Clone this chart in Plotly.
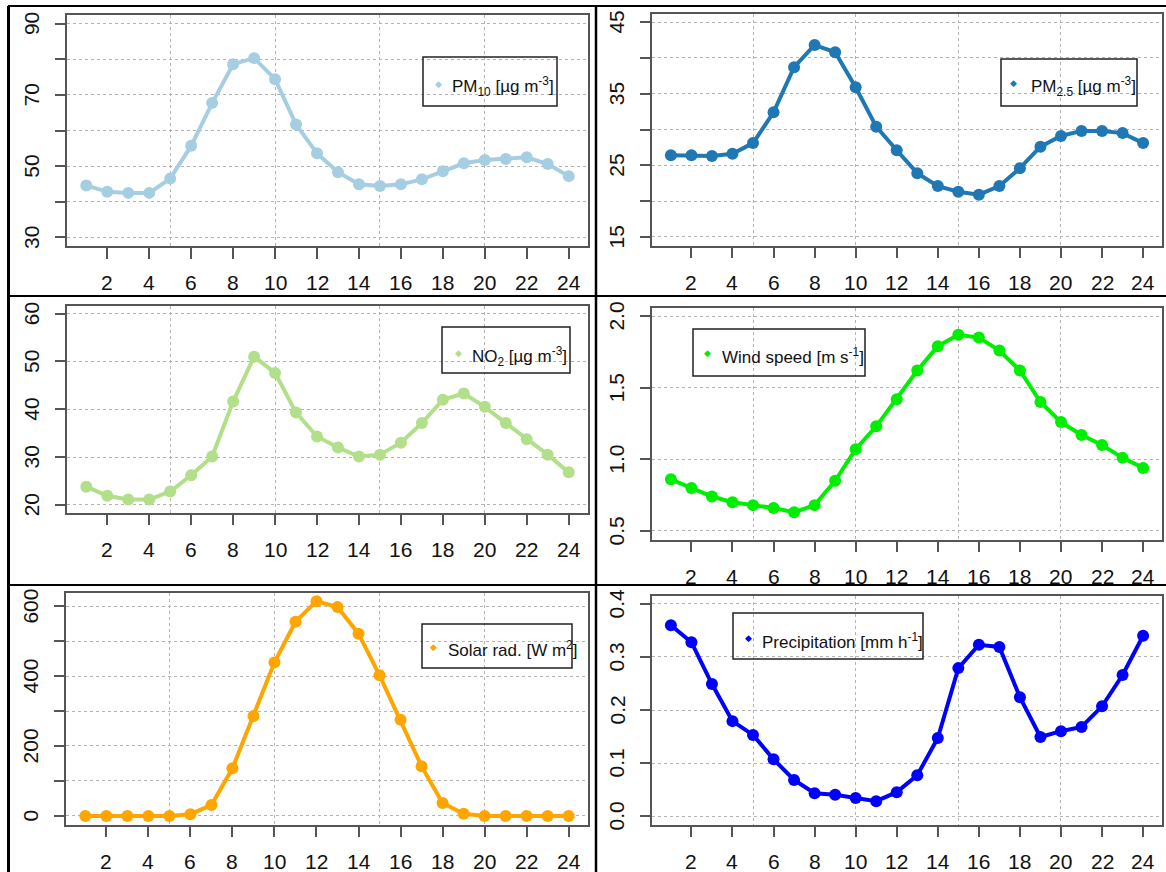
import plotly.graph_objects as go

# Diurnal cycles (hour of day 1..24)
hours = list(range(1, 25))
pm10 = [44.6, 42.8, 42.5, 42.5, 46.5, 55.7, 67.7, 78.6, 80.3, 74.4, 61.7, 53.6,
        48.3, 44.9, 44.4, 44.9, 46.3, 48.6, 50.8, 51.7, 52.0, 52.5, 50.6, 47.2]
pm25 = [26.4, 26.4, 26.3, 26.6, 28.1, 32.4, 38.7, 41.8, 40.8, 35.9, 30.4, 27.1,
        23.9, 22.1, 21.3, 20.9, 22.1, 24.6, 27.6, 29.1, 29.8, 29.8, 29.5, 28.1]
no2 = [23.8, 21.9, 21.1, 21.1, 22.8, 26.2, 30.1, 41.6, 51.0, 47.6, 39.3, 34.3,
       32.0, 30.1, 30.5, 33.0, 37.1, 42.0, 43.3, 40.5, 37.1, 33.7, 30.5, 26.8]
wind = [0.86, 0.80, 0.74, 0.70, 0.68, 0.66, 0.63, 0.68, 0.85, 1.07, 1.23, 1.42,
        1.62, 1.79, 1.87, 1.85, 1.76, 1.62, 1.40, 1.26, 1.17, 1.10, 1.01, 0.94]
solar = [0, 0, 0, 0, 0, 5, 31, 136, 286, 439, 555, 614,
         597, 521, 402, 275, 142, 37, 6, 0, 0, 0, 0, 0]
precip = [0.360, 0.328, 0.249, 0.179, 0.153, 0.107, 0.068, 0.043, 0.040, 0.034, 0.028, 0.045,
          0.077, 0.147, 0.279, 0.323, 0.319, 0.224, 0.149, 0.160, 0.168, 0.207, 0.266, 0.340]

x_ticks = list(range(2, 25, 2))
x_grid = [5, 10, 15, 20]

W, H = 1166, 872
FONT = "Liberation Sans, Arial, sans-serif"


def px(v):
    return v / W


def py(v):
    return 1 - v / H


def dom_x(l, r):
    return [px(l), px(r)]


def dom_y(t, b):
    return [py(b), py(t)]


panels = [
    dict(y=pm10, color="#A6CEE3", box=(67, 15, 588, 246), yr=[27.6, 92.4],
         yt=[30, 40, 50, 60, 70, 80, 90], yl=["30", "", "50", "", "70", "", "90"],
         leg=(423, 57, 557, 106), mk=(438, 84), tx=(450, 87),
         label="PM<sub>10</sub> [µg m<sup>-3</sup>]"),
    dict(y=pm25, color="#1F78B4", box=(652, 13.5, 1162, 245.5), yr=[13.8, 46.2],
         yt=[15, 20, 25, 30, 35, 40, 45], yl=["15", "", "25", "", "35", "", "45"],
         leg=(1001, 59, 1137, 106), mk=(1014, 83), tx=(1029, 86),
         label="PM<sub>2.5</sub> [µg m<sup>-3</sup>]"),
    dict(y=no2, color="#B2DF8A", box=(67, 306, 588, 512.5), yr=[18.4, 61.6],
         yt=[20, 30, 40, 50, 60], yl=["20", "30", "40", "50", "60"],
         leg=(442, 327, 570, 373), mk=(458, 353), tx=(470, 356),
         label="NO<sub>2</sub> [µg m<sup>-3</sup>]"),
    dict(y=wind, color="#00EE00", box=(652, 307.5, 1162, 539.5), yr=[0.44, 2.06],
         yt=[0.5, 1.0, 1.5, 2.0], yl=["0.5", "1.0", "1.5", "2.0"],
         leg=(693, 329, 865, 376), mk=(707, 353), tx=(720, 356),
         label="Wind speed [m s<sup>-1</sup>]"),
    dict(y=solar, color="#FFA500", box=(66, 593.3, 588, 824.5), yr=[-24.5, 636.5],
         yt=[0, 100, 200, 300, 400, 500, 600], yl=["0", "", "200", "", "400", "", "600"],
         leg=(422, 624, 572, 668), mk=(433, 647), tx=(446, 649),
         label="Solar rad. [W m<sup>2</sup>]"),
    dict(y=precip, color="#0000FF", box=(652, 595.5, 1162, 824.5), yr=[-0.016, 0.416],
         yt=[0.0, 0.1, 0.2, 0.3, 0.4], yl=["0.0", "0.1", "0.2", "0.3", "0.4"],
         leg=(733, 613, 923, 659), mk=(748, 638), tx=(760, 641),
         label="Precipitation [mm h<sup>-1</sup>]"),
]

fig = go.Figure()
shapes = []
annotations = []
layout_axes = {}

grid_col = "#B4B4B4"
frame_col = "#555555"
tick_font = dict(family=FONT, size=21, color="#111")
X_LABEL_GAP = 36.5   # box bottom to centre of hour labels
Y_LABEL_GAP = 35.5   # box left to centre of rotated value labels

for i, p in enumerate(panels, start=1):
    xa = "x" if i == 1 else f"x{i}"
    ya = "y" if i == 1 else f"y{i}"
    l, t, r, b = p["box"]
    fig.add_trace(go.Scatter(
        x=hours, y=p["y"], mode="lines+markers", xaxis=xa, yaxis=ya,
        line=dict(color=p["color"], width=4),
        marker=dict(color=p["color"], size=12, symbol="circle"),
        showlegend=False, hoverinfo="skip"))

    xkey = "xaxis" if i == 1 else f"xaxis{i}"
    ykey = "yaxis" if i == 1 else f"yaxis{i}"
    layout_axes[xkey] = dict(
        domain=dom_x(l, r), anchor=ya, range=[0.08, 24.92],
        tickmode="array", tickvals=x_ticks, showticklabels=False,
        ticks="outside", ticklen=11, tickwidth=1.5, tickcolor=frame_col,
        showline=True, mirror=True, linecolor=frame_col, linewidth=1.5,
        showgrid=False, zeroline=False,
        minor=dict(tickmode="array", tickvals=x_grid, showgrid=True,
                   gridcolor=grid_col, griddash="dot", gridwidth=1, ticks=""),
    )
    layout_axes[ykey] = dict(
        domain=dom_y(t, b), anchor=xa, range=p["yr"],
        tickmode="array", tickvals=p["yt"], showticklabels=False,
        ticks="outside", ticklen=10, tickwidth=1.5, tickcolor=frame_col,
        showline=True, mirror=True, linecolor=frame_col, linewidth=1.5,
        showgrid=True, gridcolor=grid_col, griddash="dot", gridwidth=1,
        zeroline=False,
    )

    # hour labels under the panel
    for v in x_ticks:
        annotations.append(dict(xref=xa, yref="paper", x=v, y=py(b + X_LABEL_GAP),
                                text=str(v), showarrow=False, xanchor="center",
                                yanchor="middle", font=tick_font))
    # value labels, written along the axis
    for v, s in zip(p["yt"], p["yl"]):
        if s:
            annotations.append(dict(xref="paper", yref=ya, x=px(l - Y_LABEL_GAP), y=v,
                                    text=s, showarrow=False, textangle=-90,
                                    xanchor="center", yanchor="middle", font=tick_font))

    # legend box, symbol and label
    ll, lt, lr, lb = p["leg"]
    shapes.append(dict(type="rect", xref="paper", yref="paper",
                       x0=px(ll), x1=px(lr), y0=py(lb), y1=py(lt),
                       line=dict(color="#222", width=1.5), fillcolor="rgba(0,0,0,0)",
                       layer="above"))
    annotations.append(dict(xref="paper", yref="paper", x=px(p["mk"][0]), y=py(p["mk"][1]),
                            text="◆", showarrow=False, xanchor="center", yanchor="middle",
                            font=dict(family="DejaVu Sans", size=9, color=p["color"])))
    annotations.append(dict(xref="paper", yref="paper", x=px(p["tx"][0]), y=py(p["tx"][1]),
                            text=p["label"], showarrow=False, xanchor="left", yanchor="middle",
                            font=dict(family=FONT, size=17, color="#111")))


# black frame lines separating the six panels
def hline(y, x0, x1, w=2):
    shapes.append(dict(type="line", xref="paper", yref="paper",
                       x0=px(x0), x1=px(x1), y0=py(y), y1=py(y),
                       line=dict(color="black", width=w)))


def vline(x, y0, y1, w=2):
    shapes.append(dict(type="line", xref="paper", yref="paper",
                       x0=px(x), x1=px(x), y0=py(y0), y1=py(y1),
                       line=dict(color="black", width=w)))


hline(6, 8, W)
hline(296, 8, W)
hline(585, 8, W)
vline(8.5, 6, H, 3)
vline(596, 6, H, 2.5)

fig.update_layout(
    width=W, height=H, margin=dict(l=0, r=0, t=0, b=0),
    paper_bgcolor="white", plot_bgcolor="white",
    shapes=shapes, annotations=annotations,
    **layout_axes,
)

fig.write_html("out.html")
